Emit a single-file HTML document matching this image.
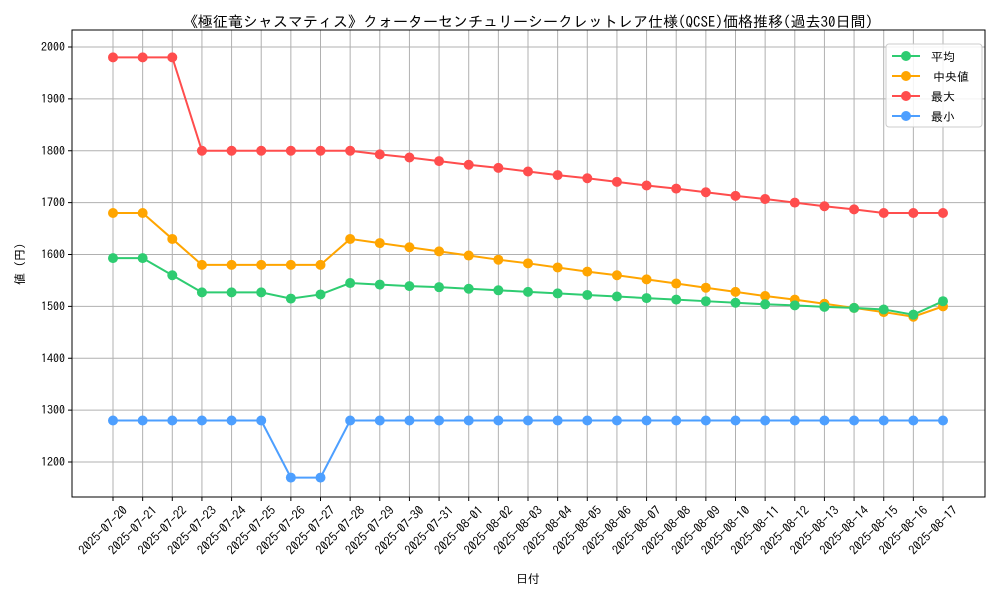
<!DOCTYPE html>
<html><head><meta charset="utf-8"><style>
body{margin:0;background:#fff}
svg{display:block;font-family:"IPAGothic","Noto Sans CJK JP",sans-serif}
</style></head><body>
<svg id="chart" width="1000" height="600">
<text x="528" y="27" text-anchor="middle" font-size="15">《極征竜シャスマティス》クォーターセンチュリーシークレットレア仕様(QCSE)価格推移(過去30日間)</text>
<g id="grid"></g><g id="axes"></g><g id="series"></g>
<text x="528" y="583" text-anchor="middle" font-size="12">日付</text>
<text transform="translate(24,264) rotate(-90)" text-anchor="middle" font-size="12">値 (円)</text>
<g id="legend"></g>
</svg>
<script>
const dates=["2025-07-20","2025-07-21","2025-07-22","2025-07-23","2025-07-24","2025-07-25","2025-07-26","2025-07-27","2025-07-28","2025-07-29","2025-07-30","2025-07-31","2025-08-01","2025-08-02","2025-08-03","2025-08-04","2025-08-05","2025-08-06","2025-08-07","2025-08-08","2025-08-09","2025-08-10","2025-08-11","2025-08-12","2025-08-13","2025-08-14","2025-08-15","2025-08-16","2025-08-17"];
const meanVals=[1593,1593,1560,1527,1527,1527,1515,1523,1545,1542,1539,1537,1534,1531,1528,1525,1522,1519,1516,1513,1510,1507,1504,1502,1499,1497,1494,1484,1510];
const medianVals=[1680,1680,1630,1580,1580,1580,1580,1580,1630,1622,1614,1606,1598,1590,1583,1575,1567,1560,1552,1544,1536,1528,1520,1513,1505,1497,1489,1480,1500];
const maxVals=[1980,1980,1980,1800,1800,1800,1800,1800,1800,1793,1787,1780,1773,1767,1760,1753,1747,1740,1733,1727,1720,1713,1707,1700,1693,1687,1680,1680,1680];
const minVals=[1280,1280,1280,1280,1280,1280,1170,1170,1280,1280,1280,1280,1280,1280,1280,1280,1280,1280,1280,1280,1280,1280,1280,1280,1280,1280,1280,1280,1280];
const yTicks=[1200,1300,1400,1500,1600,1700,1800,1900,2000];
const seriesNames=["平均","中央値","最大","最小"];
const NS="http://www.w3.org/2000/svg";
const L=72,R=985,T=30,B=497;
const xs=i=>113+i*(943-113)/(dates.length-1);
const ys=v=>462-(v-1200)*(462-47)/800;
function mk(tag,attrs,parent){const e=document.createElementNS(NS,tag);for(const k in attrs)e.setAttribute(k,attrs[k]);parent.appendChild(e);return e;}
const grid=document.getElementById('grid'),axes=document.getElementById('axes'),ser=document.getElementById('series'),leg=document.getElementById('legend');
dates.forEach((d,i)=>{const x=xs(i);
 const g=mk('line',{x1:x,x2:x,y1:T,y2:B,stroke:'#b0b0b0','stroke-width':1},grid);
 
 
 mk('line',{x1:x,x2:x,y1:B,y2:B+4,stroke:'#000'},axes);
 const t=mk('text',{transform:`translate(${x+9},${B+8}) rotate(-45)`,'text-anchor':'end','font-size':12.5,dy:'0.7em'},axes);
 t.textContent=d;
 
 
});
yTicks.forEach(v=>{const y=ys(v);
 const g=mk('line',{x1:L,x2:R,y1:y,y2:y,stroke:'#b0b0b0','stroke-width':1},grid);
 
 
 mk('line',{x1:L-4,x2:L,y1:y,y2:y,stroke:'#000'},axes);
 const t=mk('text',{x:L-7,y:y+4,'text-anchor':'end','font-size':12},axes);
 t.textContent=v;
 
 
});
const frame=mk('rect',{x:L,y:T,width:R-L,height:B-T,fill:'none',stroke:'#000','stroke-width':1},axes);


const data=[[maxVals,'#ff4d4d','max'],[medianVals,'#ffa500','median'],[meanVals,'#2ecc71','mean'],[minVals,'#4d9fff','min']];
data.forEach(([vals,c,n])=>{
 const p=mk('polyline',{points:vals.map((v,i)=>xs(i)+','+ys(v)).join(' '),fill:'none',stroke:c,'stroke-width':2},ser);
 
 
 vals.forEach((v,i)=>{const m=mk('circle',{cx:xs(i),cy:ys(v),r:5,fill:c},ser);
  
  });
});
const lb=mk('rect',{x:886,y:44,width:96,height:83,rx:3,fill:'#fff','fill-opacity':0.85,stroke:'#ccc'},leg);


const lc=['#2ecc71','#ffa500','#ff4d4d','#4d9fff'];
seriesNames.forEach((n,i)=>{const y=56+i*20;
 const g=mk('g',{},leg);
 
 
 mk('line',{x1:892,x2:920,y1:y,y2:y,stroke:lc[i],'stroke-width':2},g);
 mk('circle',{cx:906,cy:y,r:5,fill:lc[i]},g);
 const t=mk('text',{x:i==1?933:931,y:y+5,'font-size':12},g);t.textContent=n;});
</script>
</body></html>
